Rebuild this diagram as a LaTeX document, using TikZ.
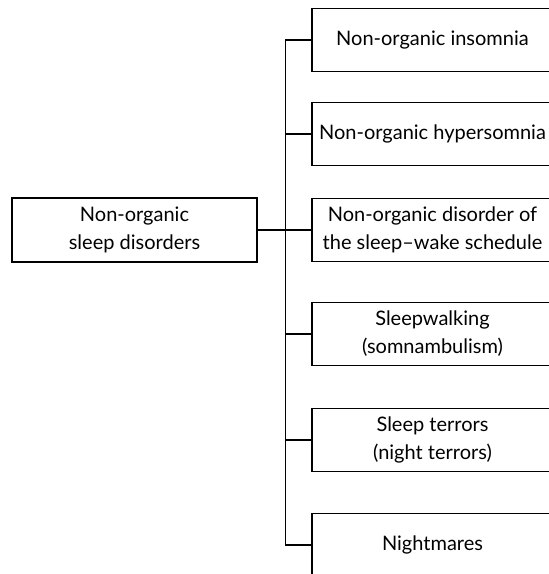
\documentclass[tikz,border=0pt]{standalone}
\usepackage{fontspec}
\setmainfont{Lato}
\usetikzlibrary{positioning}

\begin{document}
\begin{tikzpicture}[line width=0.7pt,node distance=52pt,
    box/.style={draw,rectangle,minimum width=120.5pt,minimum height=31.5pt,
      align=center,inner sep=0pt,font=\fontsize{10}{14}\selectfont}]
    \useasboundingbox (0,0) rectangle (274.5pt,-287pt);

    \node[box,minimum width=122.5pt,minimum height=32pt] (sleep) at (67.25pt,-115pt) {Non-organic\\sleep disorders};
    \node[box] (sched) at (216.25pt,-115pt) {Non-organic disorder of\\the sleep--wake schedule};
    \node[box] (hyper) [above of=sched,node distance=48pt] {Non-organic hypersomnia};
    \node[box] (ins) [above of=hyper,node distance=47pt] {Non-organic insomnia};
    \node[box] (walk) [below of=sched] {Sleepwalking\\(somnambulism)};
    \node[box] (terrors) [below of=walk,node distance=53pt] {Sleep terrors\\(night terrors)};
    \node[box] (night) [below of=terrors,node distance=52.5pt] {Nightmares};

    \coordinate[left=13pt of sched.west] (bus);
    \draw (sleep) -- (sched);
    \draw (ins.west) -- (ins.west -| bus) -- (night.west -| bus) -- (night.west);
    \foreach \n in {hyper,walk,terrors}
        \draw (\n.west) -- (\n.west -| bus);
\end{tikzpicture}
\end{document}
